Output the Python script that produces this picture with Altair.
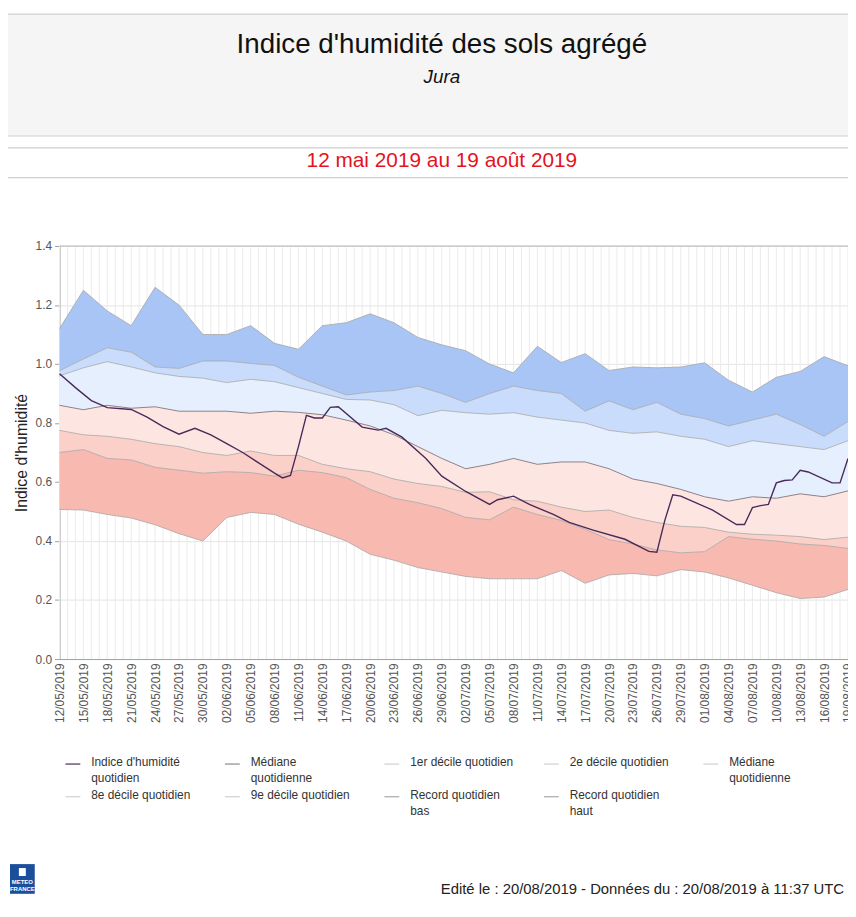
import altair as alt
import pandas as pd

# ---------------- texts ----------------
TITLE = "Indice d'humidité des sols agrégé"
SUBTITLE = "Jura"
PERIOD = "12 mai 2019 au 19 août 2019"
Y_TITLE = "Indice d'humidité"
FOOTER = "Edité le : 20/08/2019 - Données du : 20/08/2019 à 11:37 UTC"

# ---------------- data ----------------
TICK_LABELS = ["12/05/2019", "15/05/2019", "18/05/2019", "21/05/2019", "24/05/2019", "27/05/2019",
               "30/05/2019", "02/06/2019", "05/06/2019", "08/06/2019", "11/06/2019", "14/06/2019",
               "17/06/2019", "20/06/2019", "23/06/2019", "26/06/2019", "29/06/2019", "02/07/2019",
               "05/07/2019", "08/07/2019", "11/07/2019", "14/07/2019", "17/07/2019", "20/07/2019",
               "23/07/2019", "26/07/2019", "29/07/2019", "01/08/2019", "04/08/2019", "07/08/2019",
               "10/08/2019", "13/08/2019", "16/08/2019", "19/08/2019"]

Y_TICKS = [0.0, 0.2, 0.4, 0.6, 0.8, 1.0, 1.2, 1.4]

RECORD_HAUT = [1.12, 1.25, 1.18, 1.13, 1.26, 1.20, 1.10, 1.10, 1.13, 1.07, 1.05, 1.13, 1.14, 1.17,
               1.14, 1.09, 1.065, 1.045, 1.00, 0.97, 1.06, 1.005, 1.035, 0.978, 0.99, 0.987, 0.99,
               1.004, 0.945, 0.905, 0.955, 0.975, 1.025, 0.994]
DECILE_9 = [0.977, 1.017, 1.055, 1.04, 0.99, 0.985, 1.01, 1.01, 1.002, 0.995, 0.955, 0.925, 0.895,
            0.905, 0.91, 0.925, 0.90, 0.87, 0.90, 0.925, 0.91, 0.90, 0.84, 0.875, 0.845, 0.87, 0.83,
            0.815, 0.79, 0.81, 0.83, 0.795, 0.755, 0.805]
DECILE_8 = [0.96, 0.987, 1.008, 0.99, 0.97, 0.958, 0.952, 0.937, 0.948, 0.94, 0.92, 0.90, 0.88,
            0.878, 0.862, 0.825, 0.843, 0.835, 0.83, 0.835, 0.82, 0.81, 0.80, 0.775, 0.765, 0.77,
            0.755, 0.745, 0.72, 0.74, 0.73, 0.72, 0.71, 0.74]
MEDIANE = [0.86, 0.845, 0.86, 0.85, 0.855, 0.84, 0.84, 0.84, 0.833, 0.84, 0.836, 0.828, 0.81, 0.79,
           0.76, 0.72, 0.68, 0.645, 0.66, 0.68, 0.66, 0.668, 0.668, 0.645, 0.61, 0.595, 0.575, 0.55,
           0.535, 0.55, 0.545, 0.56, 0.55, 0.57]
DECILE_2 = [0.775, 0.76, 0.755, 0.745, 0.73, 0.72, 0.70, 0.69, 0.705, 0.69, 0.69, 0.66, 0.645, 0.635,
            0.61, 0.595, 0.585, 0.565, 0.567, 0.54, 0.535, 0.515, 0.50, 0.505, 0.48, 0.463, 0.45,
            0.446, 0.43, 0.423, 0.42, 0.415, 0.405, 0.413]
DECILE_1 = [0.70, 0.71, 0.68, 0.675, 0.65, 0.64, 0.63, 0.635, 0.632, 0.62, 0.64, 0.632, 0.615, 0.575,
            0.545, 0.53, 0.51, 0.48, 0.472, 0.515, 0.49, 0.47, 0.44, 0.405, 0.39, 0.37, 0.36, 0.364,
            0.415, 0.406, 0.40, 0.39, 0.385, 0.375]
RECORD_BAS = [0.507, 0.505, 0.49, 0.478, 0.455, 0.425, 0.40, 0.48, 0.497, 0.49, 0.457, 0.43, 0.40,
              0.355, 0.335, 0.31, 0.295, 0.28, 0.272, 0.272, 0.272, 0.30, 0.257, 0.285, 0.29, 0.282,
              0.303, 0.295, 0.275, 0.25, 0.225, 0.205, 0.21, 0.236]

INDICE_DAYS = [0, 2, 4, 6, 9, 11, 13, 15, 17, 19, 21, 23, 25, 27, 28, 29, 30, 31, 32, 33, 34, 35,
               38, 40, 41, 43, 46, 48, 51, 54, 55, 57, 59, 62, 64, 67, 71, 74, 75, 76, 77, 78, 82,
               85, 86, 87, 88, 89, 90, 91, 92, 93, 94, 97, 98, 99]
INDICE_VALUES = [0.967, 0.92, 0.876, 0.852, 0.846, 0.82, 0.788, 0.762, 0.782, 0.76, 0.73, 0.70,
                 0.665, 0.63, 0.614, 0.622, 0.72, 0.826, 0.817, 0.817, 0.853, 0.855, 0.786, 0.776,
                 0.782, 0.752, 0.68, 0.62, 0.568, 0.524, 0.54, 0.552, 0.524, 0.49, 0.463, 0.437,
                 0.406, 0.365, 0.362, 0.47, 0.557, 0.552, 0.505, 0.456, 0.456, 0.513, 0.52, 0.524,
                 0.597, 0.605, 0.607, 0.64, 0.634, 0.597, 0.597, 0.68]

LEGEND_LABELS = ["Indice d'humidité\nquotidien", "Médiane\nquotidienne", "1er décile quotidien",
                 "2e décile quotidien", "Médiane\nquotidienne", "8e décile quotidien",
                 "9e décile quotidien", "Record quotidien\nbas", "Record quotidien\nhaut"]
LEGEND_COLORS = ["#4a2a5a", "#8a8a8a", "#cfcfcf", "#cfcfcf", "#cfcfcf", "#cfcfcf", "#cfcfcf",
                 "#a8a8a8", "#a8a8a8"]

# ---------------- layout / style ----------------
W, H = 796, 417
FONT = "Liberation Sans"
C_DARKBLUE, C_MIDBLUE, C_LIGHTBLUE = "#a9c5f6", "#c9dcfb", "#e6effd"
C_LIGHTPINK, C_MIDPINK, C_SALMON = "#fde6e1", "#fbd0c8", "#f8b9b1"

grid_dates = pd.to_datetime(TICK_LABELS, format="%d/%m/%Y")
start = grid_dates[0]

bands = pd.DataFrame({
    "date": grid_dates.strftime("%Y-%m-%d"),
    "rh": RECORD_HAUT, "d9": DECILE_9, "d8": DECILE_8, "med": MEDIANE,
    "d2": DECILE_2, "d1": DECILE_1, "rb": RECORD_BAS,
})
indice = pd.DataFrame({
    "date": [(start + pd.Timedelta(days=d)).strftime("%Y-%m-%d") for d in INDICE_DAYS],
    "v": INDICE_VALUES,
})
daily = pd.DataFrame({"date": pd.date_range(grid_dates[0], grid_dates[-1], freq="D").strftime("%Y-%m-%d")})


def to_ms(ts):
    return int((ts - pd.Timestamp("1970-01-01")) // pd.Timedelta(milliseconds=1))


tick_ms = [to_ms(d) for d in grid_dates]

x_scale = alt.Scale(type="utc", domain=[tick_ms[0], tick_ms[-1]], nice=False)
y_scale = alt.Scale(domain=[0, 1.4], nice=False, zero=True)

x_axis = alt.Axis(values=tick_ms, labelExpr="utcFormat(datum.value, '%d/%m/%Y')", labelAngle=-90,
                  labelFontSize=12, labelColor="#555555", labelFont=FONT, labelPadding=4,
                  ticks=False, domainColor="#a0a0a0", grid=False, title=None,
                  labelOverlap=False, labelBound=False, labelFlush=False)
y_axis = alt.Axis(values=Y_TICKS, format=".1f", labelFontSize=12, labelColor="#555555", labelFont=FONT,
                  labelPadding=3, tickSize=5, tickColor="#a0a0a0", domainColor="#a0a0a0",
                  grid=True, gridColor="#e4e4e4", title=Y_TITLE, titleFont=FONT, titleFontSize=16,
                  titleFontWeight="normal", titleColor="#222222", titleX=-38, titleY=H / 2,
                  titleAngle=270, titleAlign="center", titleBaseline="middle")

X = alt.X("date:T", scale=x_scale, axis=x_axis)


def Y(field):
    return alt.Y(f"{field}:Q", scale=y_scale, axis=y_axis)


layers = []

# daily vertical grid
layers.append(alt.Chart(daily).mark_rule(color="#ebebeb", strokeWidth=1).encode(
    x=X, y=alt.value(0), y2=alt.value(H)))

# bands
for top, bot, col in [("rh", "d9", C_DARKBLUE), ("d9", "d8", C_MIDBLUE), ("d8", "med", C_LIGHTBLUE),
                      ("med", "d2", C_LIGHTPINK), ("d2", "d1", C_MIDPINK), ("d1", "rb", C_SALMON)]:
    layers.append(alt.Chart(bands).mark_area(color=col, opacity=1).encode(
        x=X, y=Y(top), y2=alt.Y2(f"{bot}:Q")))

# boundary lines
for f in ["rh", "d9", "d8", "d2", "d1", "rb"]:
    layers.append(alt.Chart(bands).mark_line(color="#a6a6a6", strokeWidth=1, opacity=0.8).encode(
        x=X, y=Y(f)))
layers.append(alt.Chart(bands).mark_line(color="#8d8088", strokeWidth=1).encode(x=X, y=Y("med")))

# humidity index
layers.append(alt.Chart(indice).mark_line(color="#4a2a5a", strokeWidth=1.4).encode(x=X, y=Y("v")))

one = pd.DataFrame({"k": [0]})

# top border of plot
layers.append(alt.Chart(one).mark_rule(color="#b5b5b5").encode(
    x=alt.value(0), x2=alt.value(W), y=alt.value(0)))


def txt(text, x, y, **kw):
    return alt.Chart(pd.DataFrame({"t": [text]})).mark_text(font=FONT, **kw).encode(
        text="t:N", x=alt.value(x), y=alt.value(y))


# header
layers.append(alt.Chart(one).mark_rect(color="#f5f5f5").encode(
    x=alt.value(-52), x2=alt.value(W), y=alt.value(-234), y2=alt.value(-111)))
for yy in [-234, -111, -99, -69]:
    layers.append(alt.Chart(one).mark_rule(color="#cfcfcf", strokeWidth=1.2).encode(
        x=alt.value(-52), x2=alt.value(W), y=alt.value(yy)))
layers.append(txt(TITLE, 386, -203, fontSize=28, color="#111111", align="center", baseline="middle"))
layers.append(txt(SUBTITLE, 386, -171, fontSize=19, fontStyle="italic", color="#111111",
                  align="center", baseline="middle"))
layers.append(txt(PERIOD, 386, -86, fontSize=21, color="#e3141c", align="center", baseline="middle"))

# legend
leg = pd.DataFrame({"label": LEGEND_LABELS, "col": LEGEND_COLORS})
leg["lx"] = [6 + 161 * (i % 5) for i in range(len(leg))]
leg["lx2"] = leg["lx"] + 15
leg["ly"] = [H + 106 + 33 * (i // 5) for i in range(len(leg))]
leg["tx"] = leg["lx"] + 26
leg["ty"] = leg["ly"] - 7
layers.append(alt.Chart(leg).mark_rule(strokeWidth=1.2).encode(
    x=alt.X("lx:Q", scale=None), x2="lx2:Q", y=alt.Y("ly:Q", scale=None),
    color=alt.Color("col:N", scale=None)))
layers.append(alt.Chart(leg).mark_text(font=FONT, fontSize=12, color="#333333", align="left",
                                       baseline="top", lineBreak="\n", lineHeight=16).encode(
    x=alt.X("tx:Q", scale=None), y=alt.Y("ty:Q", scale=None), text="label:N"))

# footer
layers.append(alt.Chart(one).mark_rect(color="#1b4e9b").encode(
    x=alt.value(-50), x2=alt.value(-25), y=alt.value(624), y2=alt.value(654)))
layers.append(alt.Chart(one).mark_rect(color="#ffffff").encode(
    x=alt.value(-41), x2=alt.value(-34), y=alt.value(628), y2=alt.value(636)))
layers.append(txt("METEO", -37.5, 642, fontSize=6, fontWeight="bold", color="#ffffff",
                  align="center", baseline="middle"))
layers.append(txt("FRANCE", -37.5, 649, fontSize=6, fontWeight="bold", color="#ffffff",
                  align="center", baseline="middle"))
layers.append(txt(FOOTER, 792, 649, fontSize=15, color="#222222", align="right", baseline="middle"))

chart = alt.layer(*layers).properties(
    width=W, height=H,
    autosize=alt.AutoSizeParams(type="none"),
    padding={"left": 52, "top": 236, "right": 0, "bottom": 239},
    background="white",
).configure_view(stroke=None)

chart.save("out.html", embed_options={"renderer": "svg", "actions": False})
